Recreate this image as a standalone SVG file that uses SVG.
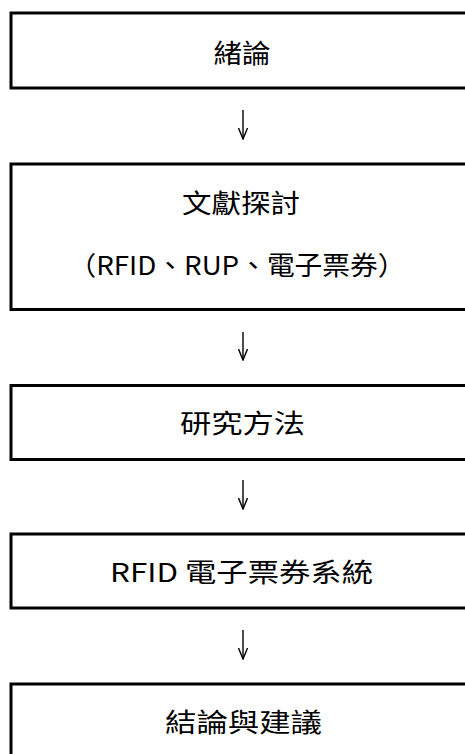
<svg xmlns="http://www.w3.org/2000/svg" width="465" height="754" viewBox="0 0 465 754">
<style>
.box{fill:#fff;stroke:#000;stroke-width:3}
.t{font-family:"Noto Sans CJK TC","Noto Sans CJK SC",sans-serif;font-size:26px;fill:#000;text-anchor:middle}
.c{stroke:#000;stroke-width:1.4;fill:none}
</style>
<defs>
<marker id="ah" markerWidth="12" markerHeight="10" refX="11" refY="5" orient="auto" markerUnits="userSpaceOnUse" viewBox="0 0 12 10">
<path d="M0,0.5 L11,5 L0,9.5" fill="none" stroke="#000" stroke-width="1.4"/>
</marker>
</defs>
<rect width="465" height="754" fill="#fff"/>
<g id="n1"><rect class="box" x="11" y="13" width="470" height="75"/><text class="t" x="242" y="63" textLength="57" lengthAdjust="spacingAndGlyphs">緒論</text></g>
<g id="n2"><rect class="box" x="11" y="164" width="470" height="145.5"/><text class="t" x="241" y="213" textLength="118" lengthAdjust="spacingAndGlyphs">文獻探討</text><text class="t" x="237" y="275" textLength="337" lengthAdjust="spacingAndGlyphs">（RFID、RUP、電子票券）</text></g>
<g id="n3"><rect class="box" x="11" y="385.5" width="470" height="74"/><text class="t" x="242.5" y="433" textLength="125" lengthAdjust="spacingAndGlyphs">研究方法</text></g>
<g id="n4"><rect class="box" x="11" y="534" width="470" height="74"/><text class="t" x="241.5" y="582" textLength="263" lengthAdjust="spacingAndGlyphs">RFID 電子票券系統</text></g>
<g id="n5"><rect class="box" x="11" y="684" width="470" height="80"/><text class="t" x="243.5" y="732" textLength="157" lengthAdjust="spacingAndGlyphs">結論與建議</text></g>
<g id="connectors">
<line class="c" x1="243" y1="110" x2="243" y2="139" marker-end="url(#ah)"/>
<line class="c" x1="243" y1="332" x2="243" y2="360" marker-end="url(#ah)"/>
<line class="c" x1="243" y1="480" x2="243" y2="509" marker-end="url(#ah)"/>
<line class="c" x1="243" y1="630" x2="243" y2="659" marker-end="url(#ah)"/>
</g>
</svg>
